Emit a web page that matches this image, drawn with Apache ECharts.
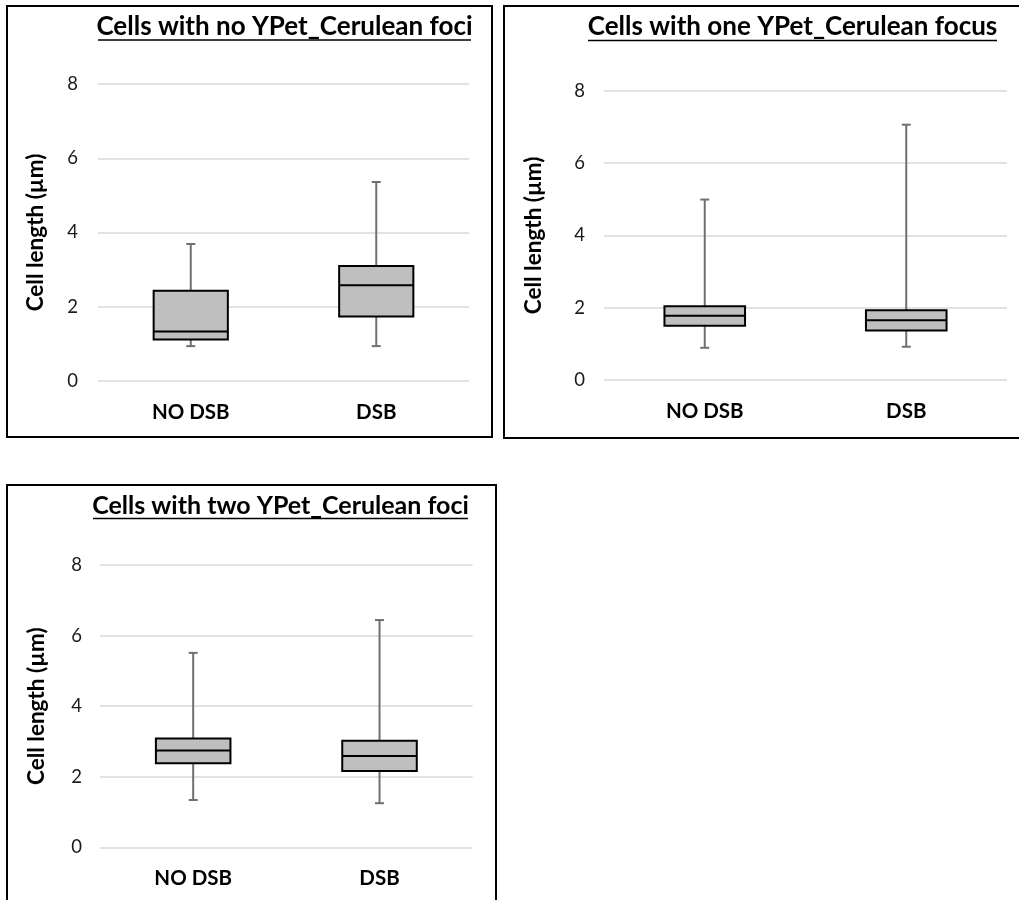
<!DOCTYPE html>
<html>
<head>
<meta charset="utf-8">
<script src="https://cdn.jsdelivr.net/npm/echarts@6/dist/echarts.min.js"></script>
<style>
  html, body { margin: 0; padding: 0; background: #fff; }
  #main { width: 1019px; height: 900px; }
</style>
</head>
<body>
<div id="main"></div>
<script>
// categories and titles
const categories = ['NO DSB', 'DSB'];
const panelTitles = [
  'Cells with no YPet_Cerulean foci',
  'Cells with one YPet_Cerulean focus',
  'Cells with two YPet_Cerulean foci'
];
const yAxisName = 'Cell length (µm)';
// box values per category: [min, Q1, median, Q3, max]
const noFociBoxes = [[0.94, 1.12, 1.33, 2.43, 3.69], [0.94, 1.74, 2.58, 3.10, 5.36]];
const oneFocusBoxes = [[0.89, 1.50, 1.78, 2.04, 4.99], [0.92, 1.37, 1.65, 1.93, 7.06]];
const twoFociBoxes = [[1.34, 2.38, 2.74, 3.08, 5.51], [1.25, 2.16, 2.59, 3.02, 6.44]];
const yMin = 0, yMax = 8, yStep = 2;

const FONT = 'Lato';
const allBoxes = [noFociBoxes, oneFocusBoxes, twoFociBoxes];

// panel frames (border box, plot grid, title centre & underline)
const panels = [
  { frame: [7, 6, 485, 431], grid: { left: 98, top: 84, width: 371, height: 297 },
    title: { cx: 284.5, y: 27, x1: 98, x2: 471, uy: 40, size: 26 }, nameGap: 51, labelMargin: 20 },
  { frame: [504, 6, 520, 432], grid: { left: 604, top: 90.7, width: 403, height: 289.3 },
    title: { cx: 792.5, y: 27, x1: 588, x2: 997, uy: 40.5, size: 26 }, nameGap: 59, labelMargin: 19 },
  { frame: [7, 485, 489, 430], grid: { left: 100, top: 565, width: 372.7, height: 282.3 },
    title: { cx: 280.5, y: 505.5, x1: 93, x2: 468, uy: 518.5, size: 25 }, nameGap: 51.5, labelMargin: 18 }
];

function renderBox(params, api) {
  const x = api.value(0);
  const pMin = api.coord([x, api.value(1)]);
  const pQ1 = api.coord([x, api.value(2)]);
  const pMed = api.coord([x, api.value(3)]);
  const pQ3 = api.coord([x, api.value(4)]);
  const pMax = api.coord([x, api.value(5)]);
  const w = api.size([1, 0])[0] * 0.4;
  const cx = pMed[0];
  const cap = 4.5;
  const whisk = { stroke: '#707070', lineWidth: 2 };
  return {
    type: 'group',
    children: [
      { type: 'line', shape: { x1: cx, y1: pQ3[1], x2: cx, y2: pMax[1] }, style: whisk },
      { type: 'line', shape: { x1: cx - cap, y1: pMax[1], x2: cx + cap, y2: pMax[1] }, style: whisk },
      { type: 'line', shape: { x1: cx, y1: pQ1[1], x2: cx, y2: pMin[1] }, style: whisk },
      { type: 'line', shape: { x1: cx - cap, y1: pMin[1], x2: cx + cap, y2: pMin[1] }, style: whisk },
      { type: 'rect', shape: { x: cx - w / 2, y: pQ3[1], width: w, height: pQ1[1] - pQ3[1] },
        style: { fill: '#bfbfbf', stroke: '#000', lineWidth: 2 } },
      { type: 'line', shape: { x1: cx - w / 2, y1: pMed[1], x2: cx + w / 2, y2: pMed[1] },
        style: { stroke: '#000', lineWidth: 2 } }
    ]
  };
}

const grids = [], xAxes = [], yAxes = [], series = [], graphics = [];
panels.forEach(function (p, i) {
  grids.push(p.grid);
  xAxes.push({
    type: 'category', gridIndex: i, data: categories, boundaryGap: true,
    axisLine: { show: false }, axisTick: { show: false },
    axisLabel: { margin: 21, fontFamily: FONT, fontWeight: 'bold', fontSize: 20.5, color: '#000' }
  });
  yAxes.push({
    type: 'value', gridIndex: i, min: yMin, max: yMax, interval: yStep,
    name: yAxisName, nameLocation: 'middle', nameGap: p.nameGap,
    nameTextStyle: { fontFamily: FONT, fontWeight: 'bold', fontSize: 22.5, color: '#000' },
    axisLine: { show: false }, axisTick: { show: false },
    axisLabel: { margin: p.labelMargin, fontFamily: FONT, fontSize: 18.5, color: '#1a1a1a' },
    splitLine: { lineStyle: { color: '#d9d9d9', width: 1.5 } }
  });
  series.push({
    type: 'custom', xAxisIndex: i, yAxisIndex: i,
    renderItem: renderBox,
    encode: { x: 0, y: [1, 2, 3, 4, 5] },
    data: allBoxes[i].map(function (b, k) { return [k].concat(b); })
  });
  graphics.push({
    type: 'rect', shape: { x: p.frame[0], y: p.frame[1], width: p.frame[2], height: p.frame[3] },
    style: { fill: 'none', stroke: '#000', lineWidth: 2 }, silent: true
  });
  graphics.push({
    type: 'text', x: p.title.cx, y: p.title.y,
    style: { text: panelTitles[i], fontFamily: FONT, fontWeight: 'bold', fontSize: p.title.size,
      fill: '#000', align: 'center', verticalAlign: 'middle' }
  });
  graphics.push({
    type: 'line', shape: { x1: p.title.x1, y1: p.title.uy, x2: p.title.x2, y2: p.title.uy },
    style: { stroke: '#000', lineWidth: 1.5 }
  });
});

const myChart = echarts.init(document.getElementById('main'), null, { renderer: 'canvas' });
myChart.setOption({
  backgroundColor: '#fff',
  animation: false,
  grid: grids,
  xAxis: xAxes,
  yAxis: yAxes,
  series: series,
  graphic: graphics
});
</script>
</body>
</html>
